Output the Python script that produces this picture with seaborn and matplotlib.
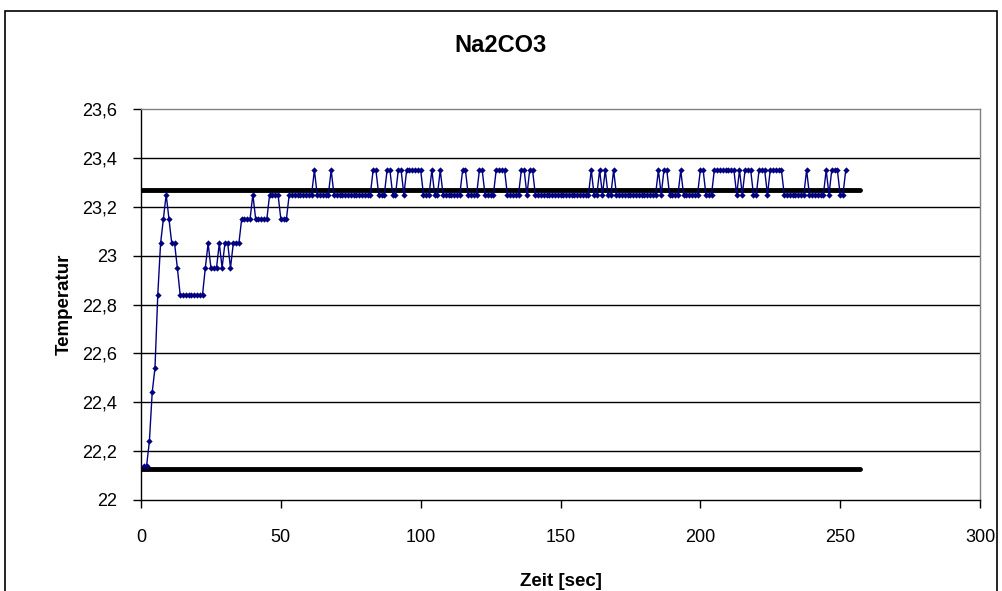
import matplotlib
matplotlib.use("Agg")
import matplotlib.pyplot as plt
import seaborn as sns
import pandas as pd
from matplotlib.ticker import FuncFormatter, FixedLocator
from matplotlib.patches import Rectangle

# ---------------- data ----------------
title = "Na2CO3"
x_label = "Zeit [sec]"
y_label = "Temperatur"

zeit = list(range(1, 253))  # one sample per second

temperatur = [
    22.14, 22.14, 22.24, 22.44, 22.54, 22.84, 23.05, 23.15, 23.25, 23.15,
    23.05, 23.05, 22.95, 22.84, 22.84, 22.84, 22.84, 22.84, 22.84, 22.84,
    22.84, 22.84, 22.95, 23.05, 22.95, 22.95, 22.95, 23.05, 22.95, 23.05,
    23.05, 22.95, 23.05, 23.05, 23.05, 23.15, 23.15, 23.15, 23.15, 23.25,
    23.15, 23.15, 23.15, 23.15, 23.15, 23.25, 23.25, 23.25, 23.25, 23.15,
    23.15, 23.15,
    23.25, 23.25, 23.25, 23.25, 23.25, 23.25, 23.25, 23.25, 23.25, 23.35,
    23.25, 23.25, 23.25, 23.25, 23.25, 23.35, 23.25, 23.25, 23.25, 23.25,
    23.25, 23.25, 23.25, 23.25, 23.25, 23.25, 23.25, 23.25, 23.25, 23.25,
    23.35, 23.35, 23.25, 23.25, 23.25, 23.35, 23.35, 23.25, 23.25, 23.35,
    23.35, 23.25, 23.35, 23.35, 23.35, 23.35, 23.35, 23.35, 23.25, 23.25,
    23.25, 23.35, 23.25, 23.25, 23.35, 23.25, 23.25, 23.25, 23.25, 23.25,
    23.25, 23.25, 23.35, 23.35, 23.25, 23.25, 23.25, 23.25, 23.35, 23.35,
    23.25, 23.25, 23.25, 23.25, 23.35, 23.35, 23.35, 23.35, 23.25, 23.25,
    23.25, 23.25, 23.25, 23.35, 23.35, 23.25, 23.35, 23.35, 23.25, 23.25,
    23.25, 23.25, 23.25, 23.25, 23.25, 23.25, 23.25, 23.25, 23.25, 23.25,
    23.25, 23.25, 23.25, 23.25, 23.25, 23.25, 23.25, 23.25, 23.35, 23.25,
    23.25, 23.35, 23.25, 23.35, 23.25, 23.25, 23.35, 23.25, 23.25, 23.25,
    23.25, 23.25, 23.25, 23.25, 23.25, 23.25, 23.25, 23.25, 23.25, 23.25,
    23.25, 23.25, 23.35, 23.25, 23.35, 23.35, 23.25, 23.25, 23.25, 23.25,
    23.35, 23.25, 23.25, 23.25, 23.25, 23.25, 23.25, 23.35, 23.35, 23.25,
    23.25, 23.25, 23.35, 23.35, 23.35, 23.35, 23.35, 23.35, 23.35, 23.35,
    23.25, 23.35, 23.25, 23.35, 23.35, 23.35, 23.25, 23.25, 23.35, 23.35,
    23.35, 23.25, 23.35, 23.35, 23.35, 23.35, 23.35, 23.25, 23.25, 23.25,
    23.25, 23.25, 23.25, 23.25, 23.25, 23.35, 23.25, 23.25, 23.25, 23.25,
    23.25, 23.25, 23.35, 23.25, 23.35, 23.35, 23.35, 23.25, 23.25, 23.35,
]

# two horizontal reference lines (start/end of line, level)
ref_x = [0, 257]
ref_upper = 23.27
ref_lower = 22.125

x_ticks = [0, 50, 100, 150, 200, 250, 300]
y_ticks = [22.0, 22.2, 22.4, 22.6, 22.8, 23.0, 23.2, 23.4, 23.6]

# ---------------- plot ----------------
sns.set_style("white")
plt.rcParams['font.family'] = ['Liberation Sans', 'DejaVu Sans']
plt.rcParams['text.color'] = 'black'
plt.rcParams['axes.labelcolor'] = 'black'
plt.rcParams['xtick.color'] = 'black'
plt.rcParams['ytick.color'] = 'black'

df = pd.DataFrame({"zeit": zeit, "temp": temperatur})
ref_df = pd.DataFrame({"x": ref_x + ref_x,
                       "y": [ref_upper, ref_upper, ref_lower, ref_lower],
                       "grp": ["o", "o", "u", "u"]})

W, H = 1002, 591
fig = plt.figure(figsize=(W / 100, H / 100), dpi=100)
fig.patch.set_facecolor("white")
ax = fig.add_axes([141 / W, (H - 500) / H, (980 - 141) / W, (500 - 109) / H])

for yv in y_ticks[1:-1]:
    ax.axhline(yv, color="black", lw=1.0, zorder=1)

for g, sub in ref_df.groupby("grp"):
    sns.lineplot(data=sub, x="x", y="y", ax=ax, color="black", lw=3.5,
                 zorder=2, legend=False, estimator=None)

sns.lineplot(data=df, x="zeit", y="temp", ax=ax, color="#000080", lw=1.0,
             marker="D", markersize=3.2, markeredgewidth=0, zorder=3,
             estimator=None, legend=False)

ax.set_xlim(0, 300)
ax.set_ylim(22.0, 23.6)
ax.xaxis.set_major_locator(FixedLocator(x_ticks))
ax.yaxis.set_major_locator(FixedLocator(y_ticks))
ax.yaxis.set_major_formatter(FuncFormatter(lambda v, p: f"{v:g}".replace(".", ",")))
ax.tick_params(axis="both", direction="out", length=6, width=1, color="black",
               labelcolor="black", labelsize=13, left=True, bottom=True)
ax.tick_params(axis="x", pad=15)
ax.tick_params(axis="y", pad=11)

for s in ["left", "bottom"]:
    ax.spines[s].set_color("black")
    ax.spines[s].set_linewidth(1.0)
for s in ["top", "right"]:
    ax.spines[s].set_color("#808080")
    ax.spines[s].set_linewidth(1.0)

ax.set_xlabel(x_label, fontsize=13.5, fontweight="bold", labelpad=19, color="black")
ax.set_ylabel(y_label, fontsize=13.5, fontweight="bold", labelpad=7, color="black")

fig.text(500 / W, 1 - 45 / H, title, fontsize=17, fontweight="bold",
         ha="center", va="center", color="black")

fig.patches.append(Rectangle((5 / W, -0.02), (997 - 5) / W, (H - 11) / H + 0.02,
                             transform=fig.transFigure, fill=False,
                             edgecolor="black", lw=1.2))

fig.savefig("out.png", dpi=100)
